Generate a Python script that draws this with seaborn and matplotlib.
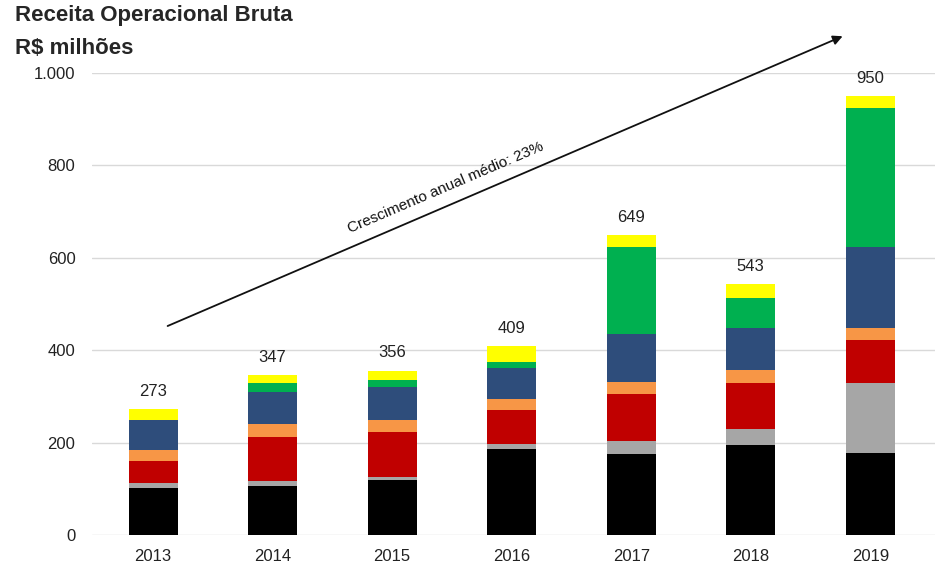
import numpy as np
import pandas as pd
import matplotlib
matplotlib.use("Agg")
import matplotlib.pyplot as plt
import seaborn as sns

# values (R$ milhoes), bottom layer first
years = ["2013", "2014", "2015", "2016", "2017", "2018", "2019"]
preto = [102, 106, 119, 187, 175, 195, 178]
cinza = [11, 11, 6, 11, 29, 34, 152]
vermelho = [47, 96, 98, 72, 102, 101, 92]
laranja = [23, 27, 26, 24, 26, 27, 27]
azul = [66, 70, 71, 68, 104, 92, 175]
verde = [0, 20, 16, 12, 187, 65, 300]
amarelo = [24, 17, 20, 35, 26, 29, 26]
totais = [273, 347, 356, 409, 649, 543, 950]

layers = [preto, cinza, vermelho, laranja, azul, verde, amarelo]
colors = ["#000000", "#A6A6A6", "#C00000", "#F79646", "#2E4D7B", "#00B050", "#FFFF00"]

sns.set_style("white")
plt.rcParams["font.family"] = ["Liberation Sans", "DejaVu Sans"]

fig = plt.figure(figsize=(9.5, 5.87), dpi=100)
ax = fig.add_axes([0.097, 0.0886, 0.887, 0.787])

# stacked bars: draw cumulative sums from the top layer down
cum = np.cumsum(np.array(layers), axis=0)
df = pd.DataFrame(cum.T, columns=[f"l{i}" for i in range(len(layers))])
df["ano"] = years
for i in range(len(layers) - 1, -1, -1):
    sns.barplot(data=df, x="ano", y=f"l{i}", color=colors[i], saturation=1,
                width=0.41, ax=ax, zorder=3, linewidth=0, edgecolor="none")

# total labels
for i, t in enumerate(totais):
    ax.text(i, t + 22, str(t), ha="center", va="bottom", fontsize=12, color="#222222")

ax.set_ylim(0, 1000)
ax.set_yticks([0, 200, 400, 600, 800, 1000])
ax.set_yticklabels(["0", "200", "400", "600", "800", "1.000"], fontsize=12, color="#222222")
ax.tick_params(axis="x", labelsize=12, colors="#222222", length=0, pad=10)
ax.tick_params(axis="y", length=0, pad=12)
ax.set_xlim(-0.51, 6.54)
ax.yaxis.grid(True, color="#D9D9D9", linewidth=1, zorder=0)
ax.set_axisbelow(True)
for s in ax.spines.values():
    s.set_visible(False)
ax.set_xlabel("")
ax.set_ylabel("")

# growth arrow
ax.annotate("", xy=(5.79, 1082), xytext=(0.1, 450), xycoords="data",
            arrowprops=dict(arrowstyle="-|>", color="#111111", lw=1.3, mutation_scale=14),
            annotation_clip=False)
ax.text(2.45, 752, "Crescimento anual médio: 23%", rotation=23.2, ha="center", va="center",
        fontsize=11, color="#111111", rotation_mode="anchor")

fig.text(0.016, 0.992, "Receita Operacional Bruta", fontsize=16, fontweight="bold", va="top")
fig.text(0.016, 0.935, "R$ milhões", fontsize=16, fontweight="bold", va="top")

fig.savefig("out.png", dpi=100)
